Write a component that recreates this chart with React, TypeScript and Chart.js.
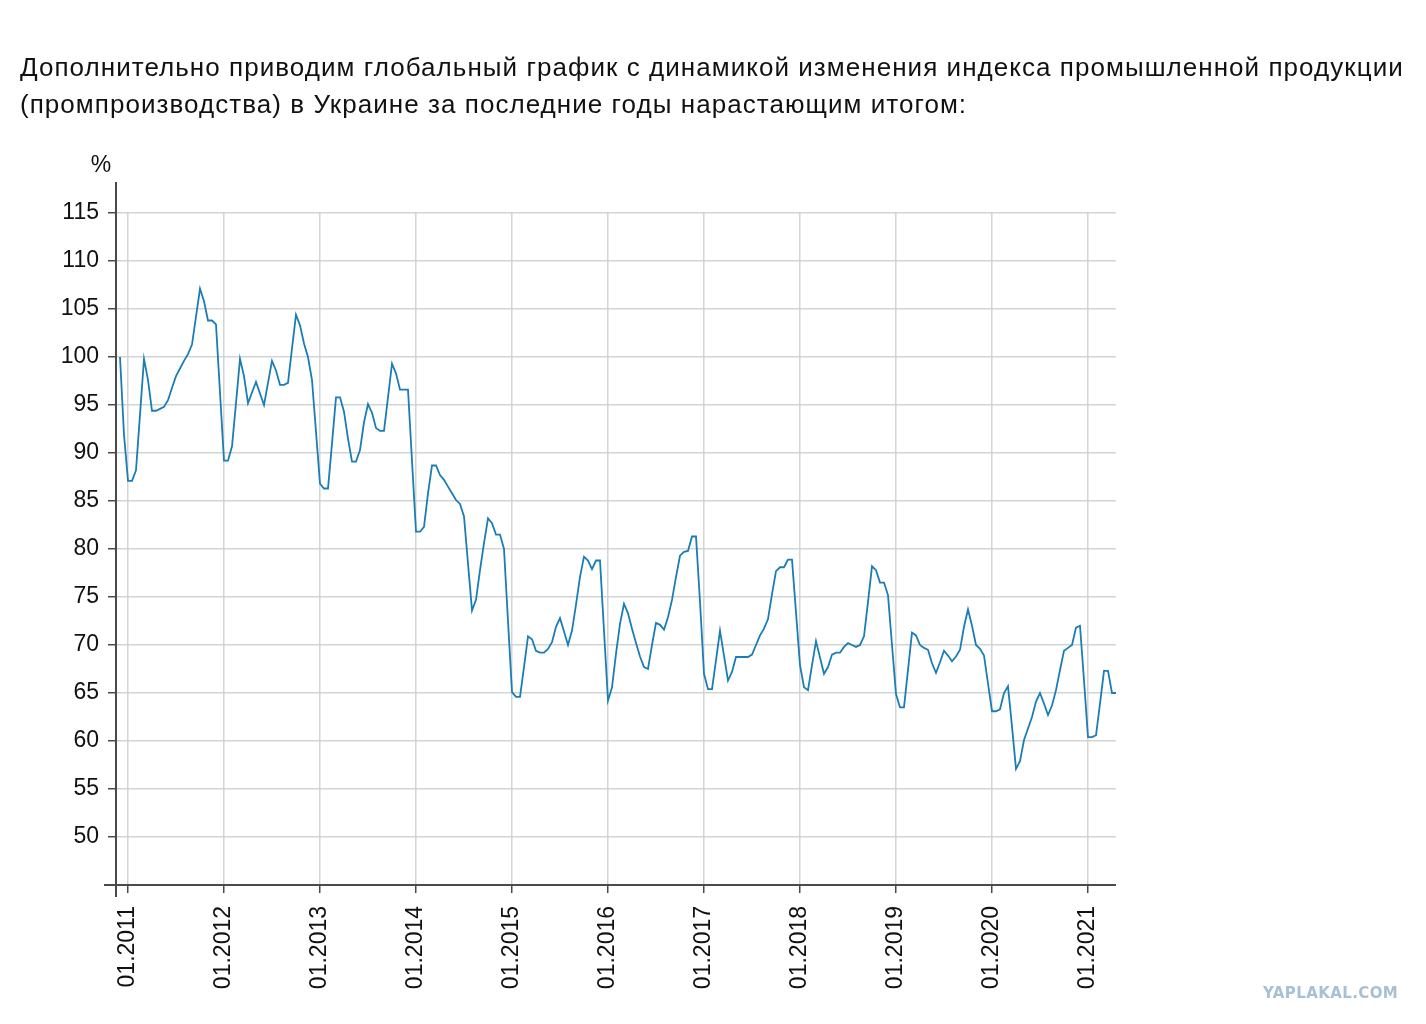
import { useEffect, useRef } from 'react';
import Chart from 'chart.js/auto';

// half-month steps, starting at 12.2010 (base = 100)
const start2010 = [100, 91.9];
const values2011 = [87.1, 87.1, 88.2, 94.0, 99.8, 97.6, 94.4, 94.4, 94.6, 94.8, 95.5, 96.8, 98.0, 98.8, 99.6, 100.3, 101.3, 104.2, 107.1, 105.8, 103.8, 103.8, 103.4, 96.3];
const values2012 = [89.2, 89.2, 90.7, 95.2, 99.8, 98.0, 95.2, 96.3, 97.4, 96.2, 95.0, 97.3, 99.6, 98.6, 97.1, 97.1, 97.3, 100.9, 104.4, 103.3, 101.4, 100.0, 97.6, 92.2];
const values2013 = [86.8, 86.3, 86.3, 91.0, 95.8, 95.8, 94.3, 91.5, 89.1, 89.1, 90.3, 93.2, 95.1, 94.2, 92.6, 92.3, 92.3, 95.8, 99.3, 98.3, 96.6, 96.6, 96.6, 89.2];
const values2014 = [81.8, 81.8, 82.3, 85.8, 88.7, 88.7, 87.7, 87.2, 86.5, 85.8, 85.1, 84.7, 83.4, 78.5, 73.6, 74.7, 77.8, 80.6, 83.2, 82.7, 81.5, 81.5, 80.0, 72.5];
const values2015 = [65.1, 64.6, 64.6, 67.7, 70.9, 70.6, 69.4, 69.2, 69.2, 69.6, 70.3, 71.9, 72.8, 71.4, 70.0, 71.5, 74.2, 77.1, 79.2, 78.8, 77.9, 78.8, 78.8, 71.5];
const values2016 = [64.2, 65.6, 69.1, 72.2, 74.3, 73.3, 71.7, 70.2, 68.8, 67.7, 67.5, 70.0, 72.3, 72.1, 71.6, 72.9, 74.7, 77.1, 79.3, 79.7, 79.8, 81.3, 81.3, 74.5];
const values2017 = [67.0, 65.4, 65.4, 68.4, 71.5, 68.9, 66.3, 67.2, 68.75, 68.75, 68.75, 68.75, 69.0, 70.0, 71.0, 71.7, 72.7, 75.3, 77.7, 78.1, 78.1, 78.9, 78.9, 73.4];
const values2018 = [67.9, 65.6, 65.3, 67.9, 70.4, 68.7, 67.0, 67.7, 69.0, 69.2, 69.2, 69.8, 70.2, 70.0, 69.8, 70.0, 70.9, 74.5, 78.2, 77.8, 76.5, 76.5, 75.2, 70.0];
const values2019 = [64.9, 63.5, 63.5, 67.4, 71.3, 71.0, 70.0, 69.7, 69.5, 68.1, 67.1, 68.2, 69.4, 68.9, 68.3, 68.8, 69.5, 71.9, 73.7, 72.0, 70.0, 69.6, 68.9, 66.0];
const values2020 = [63.1, 63.1, 63.3, 65.0, 65.7, 61.5, 57.1, 57.9, 60.1, 61.3, 62.5, 64.1, 65.0, 63.9, 62.7, 63.7, 65.3, 67.4, 69.4, 69.7, 70.0, 71.8, 72.0, 66.3];
const values2021 = [60.4, 60.4, 60.6, 63.9, 67.3, 67.3, 65.0, 65.0];

const yearLabels = ['01.2011', '01.2012', '01.2013', '01.2014', '01.2015', '01.2016', '01.2017', '01.2018', '01.2019', '01.2020', '01.2021'];
const yTickValues = [45, 50, 55, 60, 65, 70, 75, 80, 85, 90, 95, 100, 105, 110, 115];

const allValues = [
    ...start2010, ...values2011, ...values2012, ...values2013, ...values2014, ...values2015,
    ...values2016, ...values2017, ...values2018, ...values2019, ...values2020, ...values2021
];
const yearPos = yearLabels.map((_, k) => 2 + 24 * k);

const AXIS = '#4a4a4a';
const GRID = '#d4d4d4';
const LINE = '#1a7db6';
const FONT = '"Liberation Sans", Arial, Helvetica, sans-serif';

const axisLines = {
    id: 'axisLines',
    afterDraw(chart: any) {
        const { ctx, chartArea: a } = chart;
        ctx.save();
        ctx.strokeStyle = AXIS;
        ctx.lineWidth = 2;
        ctx.beginPath();
        ctx.moveTo(a.left, a.top - 31);
        ctx.lineTo(a.left, a.bottom + 12);
        ctx.moveTo(a.left - 12, a.bottom);
        ctx.lineTo(a.right, a.bottom);
        ctx.stroke();
        ctx.fillStyle = '#111';
        ctx.font = '23px ' + FONT;
        ctx.textAlign = 'center';
        ctx.textBaseline = 'middle';
        ctx.fillText('%', a.left - 15, a.top - 47);
        ctx.restore();
    }
};

function IndexChart() {
    const canvasRef = useRef<HTMLCanvasElement>(null);
    const chartRef = useRef<Chart | null>(null);

    useEffect(() => {
        if (!canvasRef.current) return;
        const ctx = canvasRef.current.getContext('2d');
        if (!ctx) return;

        chartRef.current = new Chart(ctx, {
            type: 'line',
            data: {
                datasets: [{
                    data: allValues.map((v, i) => ({ x: i, y: v })),
                    borderColor: LINE,
                    borderWidth: 1.8,
                    pointRadius: 0,
                    tension: 0,
                    fill: false
                }]
            },
            options: {
                responsive: true,
                maintainAspectRatio: false,
                animation: false,
                layout: { padding: { left: 16, top: 213, right: 310, bottom: 0 } },
                scales: {
                    x: {
                        type: 'linear',
                        min: -1,
                        max: 249,
                        afterBuildTicks: (scale: any) => {
                            scale.ticks = [-1, ...yearPos].map(v => ({ value: v }));
                        },
                        afterFit: (scale: any) => { scale.height = 139; },
                        border: { display: false },
                        grid: {
                            color: (c: any) => (c.tick && c.tick.value === -1 ? 'rgba(0,0,0,0)' : GRID),
                            lineWidth: 1.5,
                            tickColor: AXIS,
                            tickLength: 8,
                            tickWidth: 1.5
                        },
                        ticks: {
                            autoSkip: false,
                            maxRotation: 90,
                            minRotation: 90,
                            padding: 13,
                            color: '#111',
                            font: { family: FONT, size: 23 },
                            callback: (v: any) => {
                                const k = yearPos.indexOf(v);
                                return k >= 0 ? yearLabels[k] : '';
                            }
                        }
                    },
                    y: {
                        type: 'linear',
                        min: 45,
                        max: 115,
                        afterBuildTicks: (scale: any) => {
                            scale.ticks = yTickValues.map(v => ({ value: v }));
                        },
                        afterFit: (scale: any) => { scale.width = 100; },
                        border: { display: false },
                        grid: {
                            color: (c: any) => (c.tick && c.tick.value === 45 ? 'rgba(0,0,0,0)' : GRID),
                            lineWidth: 1.5,
                            tickColor: AXIS,
                            tickLength: 8,
                            tickWidth: 1.5
                        },
                        ticks: {
                            padding: 9,
                            color: '#111',
                            font: { family: FONT, size: 23 },
                            callback: (v: any) => (v === 45 ? '' : String(v))
                        }
                    }
                },
                plugins: {
                    legend: { display: false },
                    tooltip: { enabled: false }
                }
            },
            plugins: [axisLines]
        });

        return () => {
            if (chartRef.current) {
                chartRef.current.destroy();
                chartRef.current = null;
            }
        };
    }, []);

    return <canvas ref={canvasRef} />;
}

export default function App() {
    return (
        <div style={{ position: 'absolute', left: 0, top: 0, width: 1426, height: 1024, background: '#fff', overflow: 'hidden' }}>
            <div style={{ position: 'absolute', left: 0, top: 0, width: 1426, height: 1024 }}>
                <IndexChart />
            </div>
            <div style={{
                position: 'absolute', left: 20, top: 49, fontFamily: FONT, fontSize: 26,
                letterSpacing: '1.05px', lineHeight: '37px', color: '#111', whiteSpace: 'nowrap'
            }}>
                Дополнительно приводим глобальный график с динамикой изменения индекса промышленной продукции
                <br />
                (промпроизводства) в Украине за последние годы нарастающим итогом:
            </div>
            <div style={{
                position: 'absolute', left: 1263, top: 984, fontFamily: '"DejaVu Sans", sans-serif',
                fontWeight: 'bold', fontSize: 15, color: '#a8c0d4', letterSpacing: '0.4px'
            }}>
                YAPLAKAL.COM
            </div>
        </div>
    );
}
